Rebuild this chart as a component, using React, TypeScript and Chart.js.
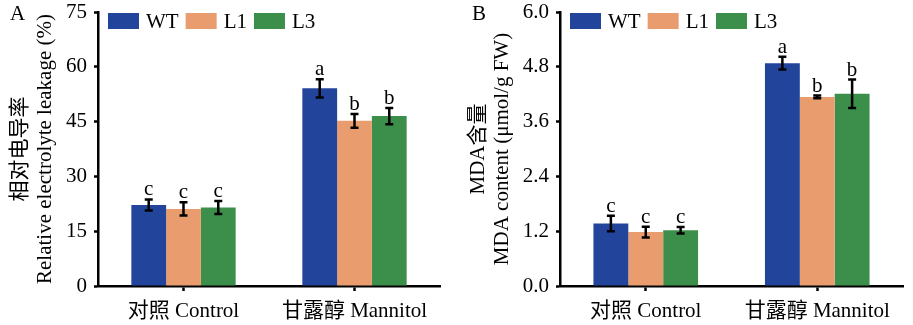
import React, { useEffect, useRef } from 'react';
import { Chart, registerables } from 'chart.js';

Chart.register(...registerables);

// ---------- data ----------
const categories = ['对照 Control', '甘露醇 Mannitol'];
const seriesNames = ['WT', 'L1', 'L3'];
const seriesColors = ['#22449b', '#e99c6d', '#3b8f4a'];

// Panel A: relative electrolyte leakage (%)
const elWT = [22.2, 54.1];
const elWTErr = [1.5, 2.5];
const elWTSig = ['c', 'a'];
const elL1 = [21.1, 45.2];
const elL1Err = [1.8, 1.9];
const elL1Sig = ['c', 'b'];
const elL3 = [21.5, 46.5];
const elL3Err = [1.8, 2.2];
const elL3Sig = ['c', 'b'];
const elTicks = [0, 15, 30, 45, 60, 75];

// Panel B: MDA content (μmol/g FW)
const mdaWT = [1.37, 4.88];
const mdaWTErr = [0.17, 0.14];
const mdaWTSig = ['c', 'a'];
const mdaL1 = [1.18, 4.14];
const mdaL1Err = [0.12, 0.03];
const mdaL1Sig = ['c', 'b'];
const mdaL3 = [1.22, 4.21];
const mdaL3Err = [0.07, 0.31];
const mdaL3Sig = ['c', 'b'];
const mdaTicks = [0, 1.2, 2.4, 3.6, 4.8, 6.0];

const FONT = '"Liberation Serif", "Noto Sans CJK SC", serif';

type PanelCfg = {
  letter: string;
  letterX: number;
  titleLines: string[];
  titleX: number[];
  means: number[][];
  errs: number[][];
  sigs: string[][];
  ticks: number[];
  decimals: number;
  leftW: number;
  rightPad: number;
};

function buildChart(canvas: HTMLCanvasElement, p: PanelCfg) {
  const overlay = {
    id: 'overlay',
    afterDatasetsDraw(chart: any) {
      const ctx = chart.ctx;
      const y = chart.scales.y;
      ctx.save();
      ctx.strokeStyle = '#000';
      ctx.fillStyle = '#000';
      ctx.lineWidth = 2.5;
      ctx.font = `21px ${FONT}`;
      ctx.textAlign = 'center';
      ctx.textBaseline = 'alphabetic';
      p.means.forEach((arr, di) => {
        const meta = chart.getDatasetMeta(di);
        arr.forEach((m, j) => {
          const bar = meta.data[j];
          const x = bar.x;
          const top = y.getPixelForValue(m + p.errs[di][j]);
          const bot = y.getPixelForValue(m - p.errs[di][j]);
          ctx.beginPath();
          ctx.moveTo(x, top);
          ctx.lineTo(x, bot);
          ctx.moveTo(x - 4, top);
          ctx.lineTo(x + 4, top);
          ctx.moveTo(x - 4, bot);
          ctx.lineTo(x + 4, bot);
          ctx.stroke();
          ctx.fillText(p.sigs[di][j], x, top - 4);
        });
      });
      ctx.restore();
    },
    afterDraw(chart: any) {
      const ctx = chart.ctx;
      const area = chart.chartArea;
      ctx.save();
      ctx.fillStyle = '#000';
      // panel letter
      ctx.font = `21px ${FONT}`;
      ctx.textAlign = 'left';
      ctx.textBaseline = 'alphabetic';
      ctx.fillText(p.letter, p.letterX, 20);
      // legend
      let lx = area.left + 10;
      const ly = area.top + 1;
      ctx.textBaseline = 'middle';
      seriesNames.forEach((n, i) => {
        ctx.fillStyle = seriesColors[i];
        ctx.fillRect(lx, ly, 31, 16);
        ctx.fillStyle = '#000';
        ctx.fillText(n, lx + 38, ly + 9);
        lx += 38 + ctx.measureText(n).width + 7;
      });
      // y-axis title (two lines)
      const cy = (area.top + area.bottom) / 2;
      ctx.textAlign = 'center';
      p.titleLines.forEach((t, i) => {
        ctx.save();
        ctx.translate(p.titleX[i], cy);
        ctx.rotate(-Math.PI / 2);
        ctx.fillText(t, 0, 0);
        ctx.restore();
      });
      ctx.restore();
    },
  };

  return new Chart(canvas, {
    type: 'bar',
    data: {
      labels: categories,
      datasets: seriesNames.map((n, i) => ({
        label: n,
        data: p.means[i],
        backgroundColor: seriesColors[i],
        borderWidth: 0,
        categoryPercentage: 0.61,
        barPercentage: 1.0,
      })),
    },
    options: {
      responsive: false,
      animation: false,
      devicePixelRatio: 1,
      layout: { padding: { top: 12, right: p.rightPad, left: 0, bottom: 0 } },
      plugins: { legend: { display: false }, tooltip: { enabled: false } },
      scales: {
        x: {
          type: 'category',
          offset: true,
          grid: {
            display: true,
            drawOnChartArea: false,
            drawTicks: true,
            tickLength: 5,
            tickWidth: 2.5,
            tickColor: '#000',
            offset: false,
          },
          border: { display: true, color: '#000', width: 2.5 },
          ticks: {
            color: '#000',
            font: { family: FONT, size: 21 },
            padding: 8,
            maxRotation: 0,
            autoSkip: false,
          },
          afterFit(scale: any) {
            scale.height = 39;
            scale.paddingLeft = 0;
            scale.paddingRight = 0;
          },
        },
        y: {
          min: p.ticks[0],
          max: p.ticks[p.ticks.length - 1],
          afterBuildTicks(scale: any) {
            scale.ticks = p.ticks.map((v) => ({ value: v }));
          },
          grid: {
            display: true,
            drawOnChartArea: false,
            drawTicks: true,
            tickLength: 4,
            tickWidth: 2.5,
            tickColor: '#000',
          },
          border: { display: true, color: '#000', width: 2.5 },
          ticks: {
            color: '#000',
            font: { family: FONT, size: 21 },
            padding: 7,
            callback: (v: any) => Number(v).toFixed(p.decimals),
          },
          afterFit(scale: any) {
            scale.width = p.leftW;
            scale.paddingTop = 0;
            scale.paddingBottom = 0;
          },
        },
      },
    },
    plugins: [overlay],
  } as any);
}

export default function App() {
  const refA = useRef<HTMLCanvasElement>(null);
  const refB = useRef<HTMLCanvasElement>(null);

  useEffect(() => {
    const a = buildChart(refA.current!, {
      letter: 'A',
      letterX: 10,
      titleLines: ['相对电导率', 'Relative electrolyte leakage (%)'],
      titleX: [20, 45],
      means: [elWT, elL1, elL3],
      errs: [elWTErr, elL1Err, elL3Err],
      sigs: [elWTSig, elL1Sig, elL3Sig],
      ticks: elTicks,
      decimals: 0,
      leftW: 98,
      rightPad: 16,
    });
    const b = buildChart(refB.current!, {
      letter: 'B',
      letterX: 16,
      titleLines: ['MDA含量', 'MDA content (μmol/g FW)'],
      titleX: [22, 46],
      means: [mdaWT, mdaL1, mdaL3],
      errs: [mdaWTErr, mdaL1Err, mdaL3Err],
      sigs: [mdaWTSig, mdaL1Sig, mdaL3Sig],
      ticks: mdaTicks,
      decimals: 1,
      leftW: 104,
      rightPad: 10,
    });
    return () => {
      a.destroy();
      b.destroy();
    };
  }, []);

  return (
    <div style={{ position: 'absolute', left: 0, top: 0, width: 913, height: 325, background: '#fff' }}>
      <canvas ref={refA} width={456} height={325} style={{ position: 'absolute', left: 0, top: 0, width: 456, height: 325 }} />
      <canvas ref={refB} width={457} height={325} style={{ position: 'absolute', left: 456, top: 0, width: 457, height: 325 }} />
    </div>
  );
}
